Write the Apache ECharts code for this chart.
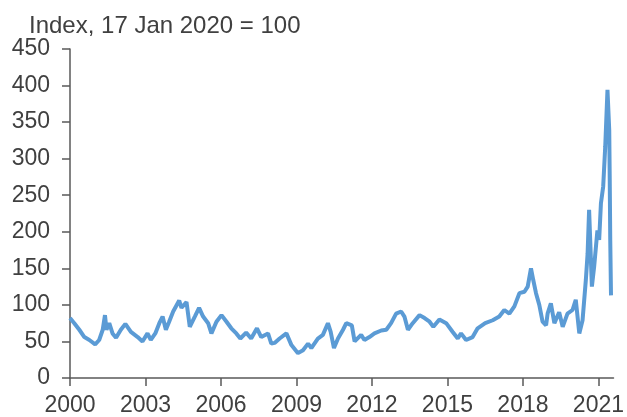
<!DOCTYPE html>
<html>
<head>
<meta charset="utf-8">
<script src="https://cdn.jsdelivr.net/npm/echarts@6/dist/echarts.min.js"></script>
<style>
	html, body { margin: 0; padding: 0; background: #fff; }
	#chart { width: 627px; height: 417px; }
</style>
</head>
<body>
<div id="chart"></div>
<script>
// decimal years
var years = [
	2000.00, 2000.17, 2000.37, 2000.57, 2000.77, 2001.00, 2001.16, 2001.30, 2001.39, 2001.45,
	2001.56, 2001.69, 2001.83, 2002.02, 2002.20, 2002.42, 2002.69, 2002.88, 2003.08, 2003.21,
	2003.39, 2003.55, 2003.68, 2003.81, 2003.94, 2004.10, 2004.34, 2004.43, 2004.63, 2004.76,
	2004.96, 2005.13, 2005.29, 2005.49, 2005.62, 2005.82, 2006.02, 2006.22, 2006.41, 2006.61,
	2006.77, 2007.00, 2007.20, 2007.43, 2007.60, 2007.87, 2008.00, 2008.13, 2008.33, 2008.60,
	2008.80, 2009.06, 2009.26, 2009.46, 2009.59, 2009.85, 2010.05, 2010.25, 2010.36, 2010.49,
	2010.65, 2010.85, 2010.98, 2011.20, 2011.31, 2011.57, 2011.70, 2011.90, 2012.10, 2012.37,
	2012.57, 2012.76, 2012.96, 2013.16, 2013.29, 2013.43, 2013.62, 2013.89, 2014.09, 2014.29,
	2014.44, 2014.68, 2014.95, 2015.21, 2015.41, 2015.54, 2015.74, 2016.00, 2016.20, 2016.50,
	2016.80, 2017.06, 2017.26, 2017.46, 2017.66, 2017.86, 2018.06, 2018.19, 2018.32, 2018.41,
	2018.52, 2018.65, 2018.78, 2018.92, 2018.98, 2019.11, 2019.25, 2019.44, 2019.58, 2019.77,
	2019.97, 2020.10, 2020.24, 2020.37, 2020.50, 2020.57, 2020.63, 2020.70, 2020.74, 2020.83,
	2020.96, 2021.03, 2021.10, 2021.19, 2021.27, 2021.36, 2021.43, 2021.45, 2021.47, 2021.50
];
var indexValues = [
	82, 75, 66, 56, 52, 46, 52, 66, 86, 66,
	75, 61, 55, 66, 74, 63, 56, 50, 61, 52,
	61, 75, 84, 66, 77, 91, 106, 96, 104, 70,
	84, 96, 84, 75, 61, 77, 86, 77, 68, 61,
	54, 62, 54, 68, 56, 61, 47, 48, 54, 61,
	45, 34, 38, 47, 41, 54, 59, 75, 63, 41,
	54, 66, 75, 72, 50, 59, 52, 56, 61, 65,
	66, 75, 88, 91, 84, 66, 75, 86, 82, 77,
	70, 80, 75, 63, 54, 61, 52, 56, 68, 75,
	79, 84, 93, 88, 98, 116, 118, 125, 150, 134,
	116, 100, 77, 72, 88, 102, 75, 90, 70, 88,
	93, 107, 61, 79, 134, 170, 230, 230, 125, 152,
	202, 189, 239, 262, 316, 394, 339, 271, 189, 113
];
var yearTicks = [2000, 2003, 2006, 2009, 2012, 2015, 2018, 2021];

var seriesData = [];
for (var i = 0; i < years.length; i++) {
	seriesData.push([years[i], indexValues[i]]);
}

var font = 'Liberation Sans, Arial, sans-serif';
var axisColor = '#595959';

var option = {
	animation: false,
	title: {
		text: 'Index, 17 Jan 2020 = 100',
		left: 24,
		top: 9,
		textStyle: { fontFamily: font, fontSize: 24, fontWeight: 'normal', color: '#404040' }
	},
	grid: { left: 70, right: 13, top: 49, bottom: 39 },
	xAxis: {
		type: 'value',
		min: 2000,
		max: 2021.6,
		splitLine: { show: false },
		axisLine: { show: true, lineStyle: { color: axisColor, width: 1.5 } },
		axisTick: { show: true, length: 8, customValues: yearTicks, lineStyle: { color: axisColor, width: 1.5 } },
		axisLabel: {
			customValues: yearTicks,
			margin: 16,
			fontFamily: font, fontSize: 23, color: '#404040',
			formatter: function(v) { return String(Math.round(v)); }
		}
	},
	yAxis: {
		type: 'value',
		min: 0,
		max: 450,
		interval: 50,
		splitLine: { show: false },
		axisLine: { show: true, lineStyle: { color: axisColor, width: 1.5 } },
		axisTick: { show: true, length: 8, lineStyle: { color: axisColor, width: 1.5 } },
		axisLabel: { margin: 20, fontFamily: font, fontSize: 23, color: '#404040' }
	},
	series: [{
		type: 'line',
		data: seriesData,
		showSymbol: false,
		lineStyle: { color: '#5B9BD5', width: 4 },
		itemStyle: { color: '#5B9BD5' }
	}]
};

var myChart = echarts.init(document.getElementById('chart'));
myChart.setOption(option);
</script>
</body>
</html>
